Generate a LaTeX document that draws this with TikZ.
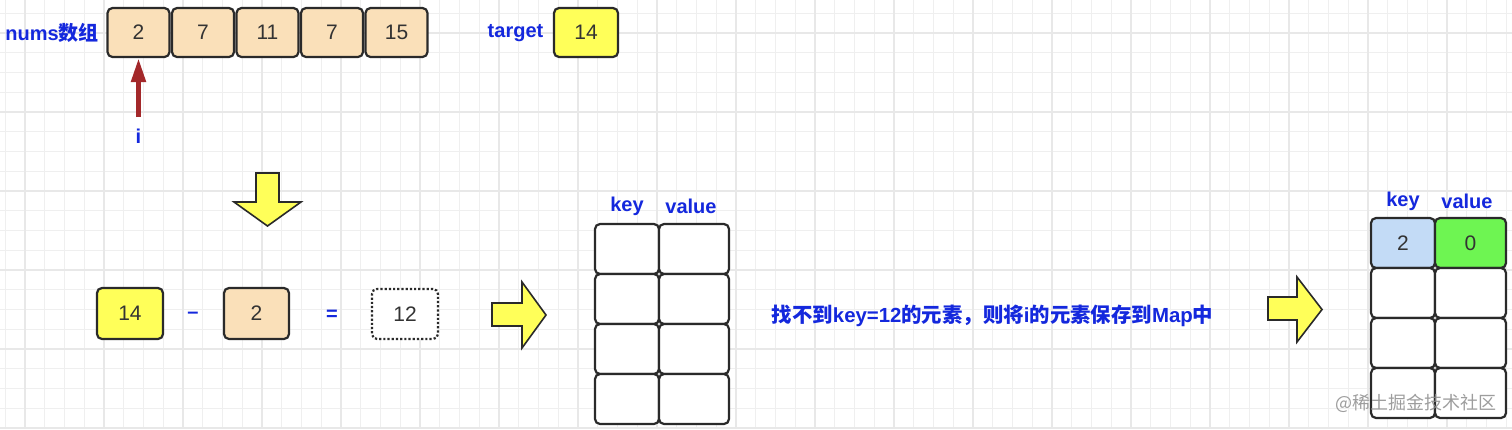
\documentclass[tikz,border=0pt]{standalone}
\usepackage{fontspec}
\setmainfont{Liberation Sans}
\newfontfamily\cjk{Noto Sans CJK SC}
\usetikzlibrary{arrows.meta}
\definecolor{peach}{HTML}{FAE0B9}
\definecolor{ayellow}{HTML}{FFFF59}
\definecolor{lblblue}{HTML}{1428DD}
\definecolor{boxline}{HTML}{2A2A2A}
\definecolor{numgray}{HTML}{333333}
\definecolor{keyblue}{HTML}{C3DBF6}
\definecolor{valgreen}{HTML}{6EF552}
\definecolor{darkred}{HTML}{A3282A}
\definecolor{gridminor}{HTML}{EFEFEF}
\definecolor{gridmajor}{HTML}{E8E8E8}
\tikzset{
  cell/.style={draw=boxline, line width=2.2pt, rounded corners=5pt, inner sep=0pt,
    font=\fontsize{21}{21}\selectfont, text=numgray},
  numbox/.style={cell, fill=peach, minimum width=62pt, minimum height=49pt},
  yelbox/.style={cell, fill=ayellow},
  mcell/.style={cell, fill=white, minimum height=50pt},
  lbl/.style={font=\fontsize{20}{20}\selectfont\bfseries, text=lblblue, inner sep=0pt},
  bigarrow/.style={fill=ayellow, draw=boxline, line width=1.6pt, line join=miter},
  redarrow/.style={draw=darkred, line width=5pt, -{Triangle[width=14pt,length=24pt]}},
  watermark/.style={font=\cjk\fontsize{18}{18}\selectfont, text=black!45, opacity=0.85, inner sep=0pt}
}
\begin{document}
\begin{tikzpicture}[x=1pt,y=-1pt]
\useasboundingbox (0,0) rectangle (1512,429);
\fill[white] (0,0) rectangle (1512,429);
% grid
\foreach \k in {0,...,76} {\draw[gridminor, line width=1pt] (5.25+19.75*\k,0) -- (5.25+19.75*\k,429);}
\foreach \k in {0,...,21} {\draw[gridminor, line width=1pt] (0,13.25+19.75*\k) -- (1512,13.25+19.75*\k);}
\foreach \k in {0,...,18} {\draw[gridmajor, line width=1.2pt] (25+79*\k,0) -- (25+79*\k,429);}
\foreach \k in {0,...,5} {\draw[gridmajor, line width=1.2pt] (0,33+79*\k) -- (1512,33+79*\k);}

% top array
\node[lbl] (numslbl) at (52,33) {nums{\cjk\bfseries 数组}};
\node[numbox] (a1) at (138.5,32.5) {2};
\node[numbox] (a2) at (203,32.5) {7};
\node[numbox] (a3) at (267.5,32.5) {11};
\node[numbox] (a4) at (332,32.5) {7};
\node[numbox] (a5) at (396.5,32.5) {15};
\node[lbl] (targetlbl) at (515.5,33) {target};
\node[yelbox, minimum width=64pt, minimum height=49pt] (target) at (586,32.5) {14};

% pointer i
\coordinate (ibase) at (138.5,117);
\draw[redarrow] (ibase) -- (a1.south);
\node[lbl] (ilbl) at (138.5,136) {i};

% down arrow
\draw[bigarrow] (256,173) -- (279,173) -- (279,202) -- (301,202) -- (267.5,226) -- (234,202) -- (256,202) -- cycle;

% equation row
\node[yelbox, minimum width=66pt, minimum height=51pt] (t14) at (130,313.5) {14};
\node[lbl] (minus) at (193,315) {–};
\node[numbox, minimum width=65pt, minimum height=51pt] (n2) at (256.5,313.5) {2};
\node[lbl] (eq) at (332,315) {=};
\node[cell, draw=boxline, line width=2.2pt, dotted, fill=white, minimum width=66pt, minimum height=50pt] (res) at (405,314) {12};

% right arrow 1
\draw[bigarrow] (492,303) -- (522,303) -- (522,282) -- (546,315) -- (522,348) -- (522,326) -- (492,326) -- cycle;

% map table 1
\node[lbl] (k1lbl) at (627,206) {key};
\node[lbl] (v1lbl) at (691,206) {value};
\foreach \r/\y in {1/249,2/299,3/349,4/399} {
  \node[mcell, minimum width=64pt] (m1k\r) at (627,\y) {};
  \node[mcell, minimum width=70pt] (m1v\r) at (694,\y) {};
}

% message
\node[lbl, font=\fontsize{20.4}{20.4}\selectfont\bfseries] (msg) at (992.5,316) {{\cjk\bfseries 找不到}key=12{\cjk\bfseries 的元素，则将}i{\cjk\bfseries 的元素保存到}Map{\cjk\bfseries 中}};

% right arrow 2
\draw[bigarrow] (1268,297) -- (1297,297) -- (1297,277) -- (1322,309.5) -- (1297,342) -- (1297,320) -- (1268,320) -- cycle;

% map table 2
\node[lbl] (k2lbl) at (1403,201) {key};
\node[lbl] (v2lbl) at (1467,201) {value};
\node[mcell, minimum width=64pt, fill=keyblue] (m2k1) at (1403,243) {2};
\node[mcell, minimum width=71pt, fill=valgreen] (m2v1) at (1470.5,243) {0};
\foreach \r/\y in {2/293,3/343,4/393} {
  \node[mcell, minimum width=64pt] (m2k\r) at (1403,\y) {};
  \node[mcell, minimum width=71pt] (m2v\r) at (1470.5,\y) {};
}

% watermark
\node[watermark] (wm) at (1416,403) {@稀土掘金技术社区};
\end{tikzpicture}
\end{document}
